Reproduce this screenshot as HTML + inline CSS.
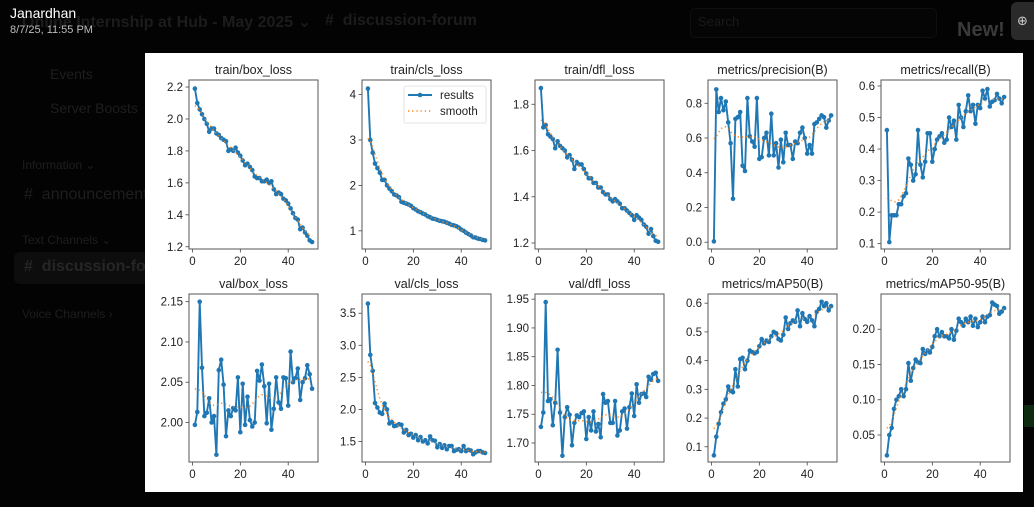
<!DOCTYPE html>
<html><head><meta charset="utf-8">
<style>
html,body{margin:0;padding:0;background:#000;width:1034px;height:507px;overflow:hidden;font-family:"Liberation Sans","DejaVu Sans",sans-serif;}
.bg{position:absolute;color:#1e1e1e;font-size:14px;white-space:nowrap}
</style></head><body>
<div style="position:absolute;left:0;top:0;width:1034px;height:507px;background:#030303"></div>
<div class="bg" style="left:22px;top:12px;font-size:16px;font-weight:bold;color:#1c1c1c">Online Internship at Hub - May 2025 ⌄</div>
<div class="bg" style="left:325px;top:12px;font-size:16px;font-weight:bold;color:#1c1c1c"># &nbsp;discussion-forum</div>
<div class="bg" style="left:50px;top:66px">Events</div>
<div class="bg" style="left:50px;top:100px">Server Boosts</div>
<div class="bg" style="left:22px;top:158px;font-size:12px">Information ⌄</div>
<div class="bg" style="left:24px;top:186px;font-size:16px"># &nbsp;announcements</div>
<div class="bg" style="left:22px;top:233px;font-size:12px">Text Channels ⌄</div>
<div style="position:absolute;left:14px;top:252px;width:135px;height:32px;background:#0d0d0d;border-radius:6px"></div>
<div class="bg" style="left:24px;top:258px;font-size:16px;font-weight:bold;color:#262626"># &nbsp;discussion-forum</div>
<div class="bg" style="left:22px;top:307px;font-size:12px">Voice Channels ›</div>
<div style="position:absolute;left:690px;top:8px;width:245px;height:28px;border:1px solid #0f0f0f;border-radius:5px;background:#050505"></div>
<div class="bg" style="left:698px;top:14px;font-size:13px;color:#1a1a1a">Search</div>
<div class="bg" style="left:957px;top:19px;font-size:20px;font-weight:bold;color:#3a3a3a">New!</div>
<div style="position:absolute;left:1011px;top:2px;width:30px;height:38px;background:#2a2a2a;border-radius:6px;color:#ccc;font-size:13px;text-align:left;padding-left:6px;line-height:38px;box-sizing:border-box">⊕</div>
<div style="position:absolute;left:1024px;top:405px;width:10px;height:22px;background:#0e2a0e"></div>
<div style="position:absolute;left:10px;top:5px;color:#fff;font-size:14px">Janardhan</div>
<div style="position:absolute;left:10px;top:24px;color:#bdbdbd;font-size:11px">8/7/25, 11:55 PM</div>
<svg id="s" width="1034" height="507" style="position:absolute;left:0;top:0" xmlns="http://www.w3.org/2000/svg"></svg>
<script>
var P=[
{t:"train/box_loss",yl:[1.186,2.244],tk:[[1.2,"1.2"],[1.4,"1.4"],[1.6,"1.6"],[1.8,"1.8"],[2.0,"2.0"],[2.2,"2.2"]],
d:[2.19,2.10,2.06,2.03,2.00,1.97,1.92,1.94,1.94,1.91,1.90,1.88,1.87,1.86,1.80,1.81,1.80,1.82,1.79,1.77,1.74,1.71,1.72,1.70,1.68,1.64,1.63,1.63,1.61,1.61,1.62,1.60,1.61,1.56,1.53,1.54,1.53,1.50,1.49,1.47,1.44,1.41,1.38,1.37,1.31,1.32,1.29,1.27,1.24,1.23]},
{t:"train/cls_loss",yl:[0.60,4.32],tk:[[1,"1"],[2,"2"],[3,"3"],[4,"4"]],leg:1,
d:[4.13,3.0,2.72,2.48,2.38,2.28,2.12,2.12,2.0,1.93,1.87,1.80,1.78,1.74,1.64,1.62,1.60,1.58,1.55,1.50,1.47,1.43,1.41,1.38,1.36,1.32,1.30,1.27,1.26,1.24,1.22,1.21,1.20,1.18,1.16,1.13,1.12,1.10,1.07,1.03,1.00,0.96,0.93,0.90,0.86,0.85,0.83,0.82,0.80,0.79]},
{t:"train/dfl_loss",yl:[1.174,1.905],tk:[[1.2,"1.2"],[1.4,"1.4"],[1.6,"1.6"],[1.8,"1.8"]],
d:[1.87,1.70,1.71,1.67,1.66,1.65,1.61,1.64,1.62,1.61,1.60,1.57,1.58,1.56,1.52,1.55,1.54,1.54,1.52,1.50,1.48,1.48,1.46,1.46,1.44,1.44,1.42,1.41,1.41,1.39,1.38,1.39,1.38,1.37,1.35,1.35,1.34,1.33,1.32,1.30,1.32,1.31,1.30,1.28,1.27,1.24,1.26,1.23,1.21,1.205]},
{t:"metrics/precision(B)",yl:[-0.039,0.934],tk:[[0,"0.0"],[0.2,"0.2"],[0.4,"0.4"],[0.6,"0.6"],[0.8,"0.8"]],
d:[0.005,0.88,0.75,0.83,0.76,0.81,0.69,0.57,0.25,0.71,0.72,0.75,0.44,0.41,0.83,0.61,0.58,0.55,0.83,0.48,0.49,0.60,0.63,0.50,0.74,0.50,0.57,0.43,0.59,0.46,0.63,0.56,0.56,0.48,0.58,0.57,0.63,0.66,0.60,0.51,0.56,0.51,0.68,0.69,0.71,0.73,0.72,0.66,0.70,0.73]},
{t:"metrics/recall(B)",yl:[0.083,0.619],tk:[[0.1,"0.1"],[0.2,"0.2"],[0.3,"0.3"],[0.4,"0.4"],[0.5,"0.5"],[0.6,"0.6"]],
d:[0.46,0.105,0.19,0.19,0.19,0.225,0.225,0.25,0.26,0.37,0.35,0.30,0.32,0.46,0.35,0.31,0.36,0.45,0.45,0.36,0.40,0.43,0.44,0.45,0.42,0.43,0.50,0.47,0.49,0.43,0.54,0.50,0.47,0.52,0.57,0.52,0.54,0.48,0.54,0.53,0.585,0.56,0.59,0.535,0.55,0.555,0.575,0.56,0.545,0.565]},
{t:"val/box_loss",yl:[1.951,2.1595],tk:[[2.0,"2.00"],[2.05,"2.05"],[2.1,"2.10"],[2.15,"2.15"]],
d:[1.997,2.013,2.15,2.068,2.008,2.012,2.03,2.0,2.008,1.96,2.065,2.078,2.047,1.983,2.015,2.008,2.018,2.015,2.056,1.988,2.048,1.997,2.032,2.003,1.995,2.0,2.064,2.052,2.072,2.045,1.999,2.048,1.991,2.017,2.056,2.025,2.017,2.056,2.055,2.021,2.088,2.05,2.055,2.067,2.028,2.05,2.055,2.071,2.06,2.042]},
{t:"val/cls_loss",yl:[1.18,3.80],tk:[[1.5,"1.5"],[2.0,"2.0"],[2.5,"2.5"],[3.0,"3.0"],[3.5,"3.5"]],
d:[3.65,2.85,2.6,2.1,2.03,1.95,1.93,2.09,2.0,1.78,1.80,1.74,1.75,1.77,1.76,1.64,1.68,1.60,1.62,1.56,1.60,1.52,1.57,1.50,1.52,1.47,1.58,1.52,1.51,1.41,1.46,1.40,1.44,1.38,1.43,1.43,1.35,1.37,1.38,1.35,1.43,1.35,1.37,1.36,1.30,1.33,1.35,1.35,1.33,1.32]},
{t:"val/dfl_loss",yl:[1.667,1.959],tk:[[1.7,"1.70"],[1.75,"1.75"],[1.8,"1.80"],[1.85,"1.85"],[1.9,"1.90"],[1.95,"1.95"]],
d:[1.728,1.753,1.945,1.773,1.776,1.731,1.77,1.862,1.753,1.678,1.745,1.762,1.749,1.696,1.735,1.748,1.745,1.752,1.755,1.707,1.745,1.722,1.755,1.72,1.733,1.71,1.785,1.77,1.773,1.735,1.735,1.773,1.713,1.722,1.755,1.76,1.725,1.762,1.786,1.747,1.802,1.77,1.785,1.786,1.78,1.815,1.81,1.82,1.822,1.808]},
{t:"metrics/mAP50(B)",yl:[0.047,0.632],tk:[[0.1,"0.1"],[0.2,"0.2"],[0.3,"0.3"],[0.4,"0.4"],[0.5,"0.5"],[0.6,"0.6"]],
d:[0.07,0.135,0.18,0.22,0.25,0.265,0.31,0.295,0.29,0.37,0.31,0.405,0.41,0.37,0.40,0.435,0.43,0.425,0.43,0.45,0.475,0.46,0.47,0.465,0.485,0.50,0.495,0.475,0.47,0.49,0.55,0.51,0.53,0.54,0.535,0.575,0.52,0.565,0.545,0.535,0.555,0.54,0.52,0.57,0.58,0.605,0.59,0.6,0.575,0.59]},
{t:"metrics/mAP50-95(B)",yl:[0.0117,0.250],tk:[[0.05,"0.05"],[0.1,"0.10"],[0.15,"0.15"],[0.2,"0.20"]],
d:[0.021,0.05,0.06,0.087,0.10,0.105,0.115,0.105,0.115,0.152,0.127,0.145,0.157,0.153,0.152,0.172,0.165,0.17,0.167,0.175,0.19,0.20,0.19,0.196,0.19,0.19,0.187,0.20,0.185,0.198,0.215,0.21,0.205,0.215,0.21,0.218,0.205,0.215,0.203,0.21,0.218,0.21,0.218,0.22,0.238,0.235,0.233,0.222,0.225,0.23]}
];
function smooth(y,s){var n=y.length,r=[],R=Math.ceil(4*s);for(var i=0;i<n;i++){var a=0,w=0;for(var k=-R;k<=R;k++){var j=i+k;if(j<0)j=-j-1;if(j>=n)j=2*n-j-1;var g=Math.exp(-k*k/(2*s*s));a+=g*y[j];w+=g;}r.push(a/w);}return r;}
var h='<rect x="145" y="53" width="878" height="439" fill="#fff"/>';
var CX=[189,362,535,708,881],W=129,RY=[[80,249],[294,462]];
P.forEach(function(p,idx){
 var col=idx%5,row=Math.floor(idx/5),x0=CX[col],y0=RY[row][0],y1=RY[row][1];
 var X=function(v){return x0+(v+1.45)/53.9*W;};
 var Y=function(v){return y1-(v-p.yl[0])/(p.yl[1]-p.yl[0])*(y1-y0);};
 h+='<text x="'+(x0+W/2)+'" y="'+(y0-6)+'" font-size="12.5" fill="#222" text-anchor="middle">'+p.t+'</text>';
 p.tk.forEach(function(t){var yy=Y(t[0]);h+='<line x1="'+(x0-3.5)+'" x2="'+x0+'" y1="'+yy+'" y2="'+yy+'" stroke="#444" stroke-width="0.8"/><text x="'+(x0-6)+'" y="'+(yy+4)+'" font-size="11.5" fill="#222" text-anchor="end">'+t[1]+'</text>';});
 [0,20,40].forEach(function(t){var xx=X(t);h+='<line x1="'+xx+'" x2="'+xx+'" y1="'+y1+'" y2="'+(y1+3.5)+'" stroke="#444" stroke-width="0.8"/><text x="'+xx+'" y="'+(y1+16)+'" font-size="11.5" fill="#222" text-anchor="middle">'+t+'</text>';});
 var pts=p.d.map(function(v,i){return X(i+1).toFixed(1)+','+Y(v).toFixed(1);});
 h+='<polyline points="'+pts.join(' ')+'" fill="none" stroke="#1f77b4" stroke-width="1.9" stroke-linejoin="round"/>';
 pts.forEach(function(q){var c=q.split(',');h+='<circle cx="'+c[0]+'" cy="'+c[1]+'" r="2.3" fill="#1f77b4"/>';});
 var sm=smooth(p.d,3).map(function(v,i){return X(i+1).toFixed(1)+','+Y(v).toFixed(1);});
 h+='<polyline points="'+sm.join(' ')+'" fill="none" stroke="#ff7f0e" stroke-width="1.6" stroke-dasharray="1.2,3" opacity="0.9"/>';
 h+='<rect x="'+x0+'" y="'+y0+'" width="'+W+'" height="'+(y1-y0)+'" fill="none" stroke="#555" stroke-width="1"/>';
 if(p.leg){h+='<rect x="404" y="86" width="82" height="37" rx="2" fill="#fff" stroke="#ddd" stroke-width="0.8"/>'+
  '<line x1="408" x2="432" y1="95" y2="95" stroke="#1f77b4" stroke-width="1.9"/><circle cx="420" cy="95" r="2.3" fill="#1f77b4"/>'+
  '<text x="440" y="99" font-size="11.5" fill="#222">results</text>'+
  '<line x1="408" x2="432" y1="111" y2="111" stroke="#ff7f0e" stroke-width="1.6" stroke-dasharray="1.2,3"/>'+
  '<text x="440" y="115" font-size="11.5" fill="#222">smooth</text>';}
});
document.getElementById('s').innerHTML=h;
</script>
</body></html>
